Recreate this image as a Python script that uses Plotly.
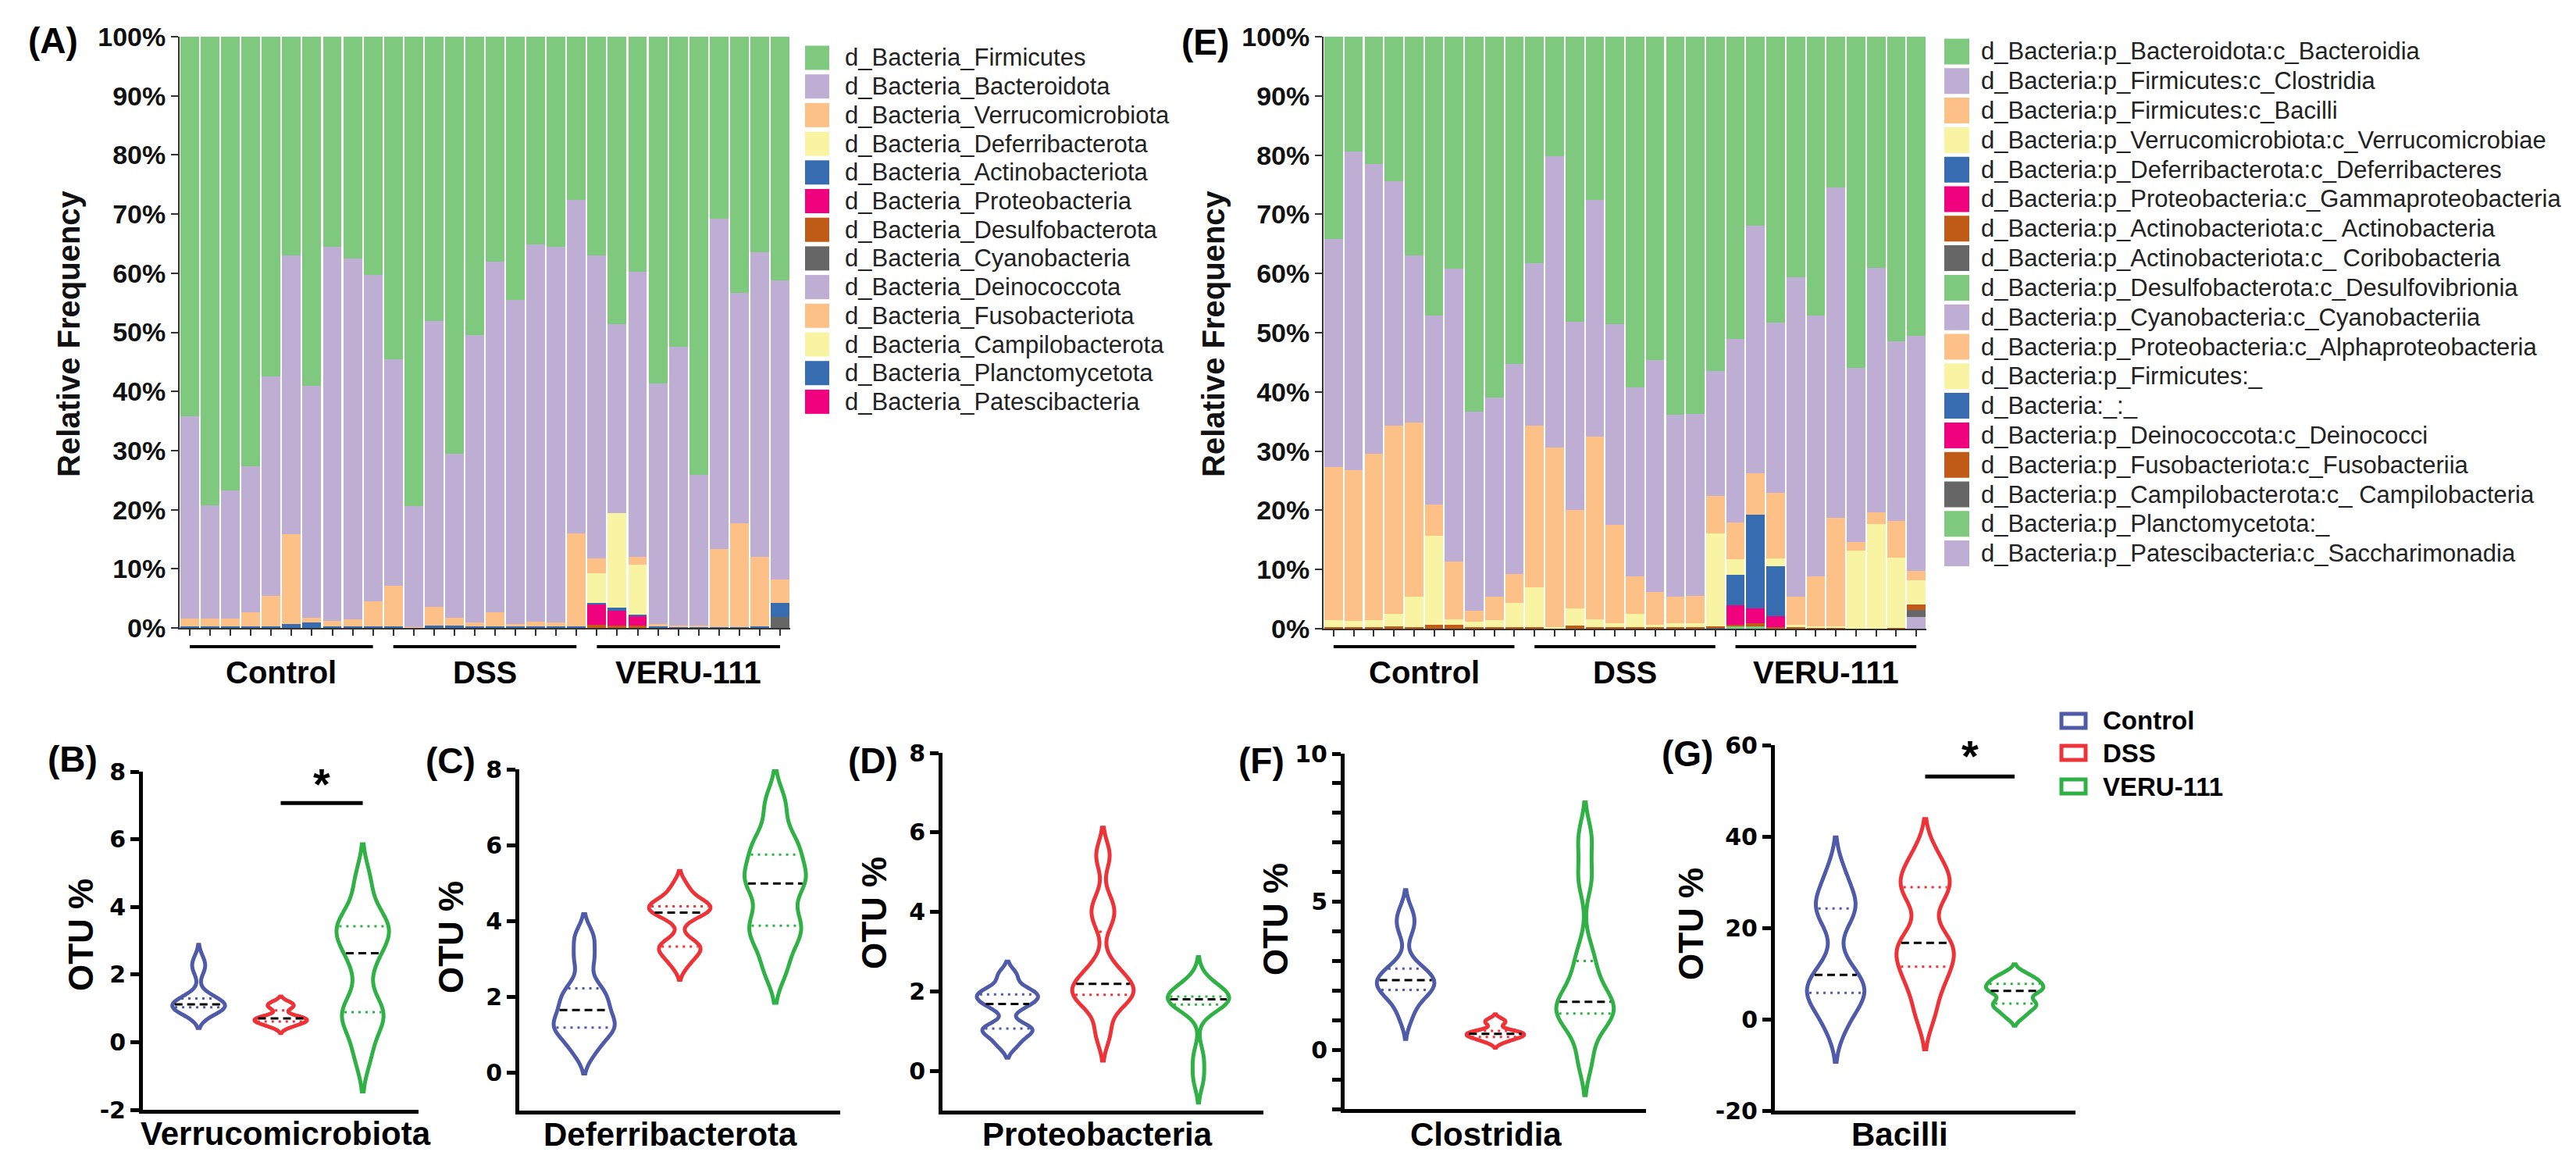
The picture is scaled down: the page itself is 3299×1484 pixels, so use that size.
import math
import numpy as np
import plotly.graph_objects as go

W, H = 3299, 1484
FONT = 'Arial, "Liberation Sans", Helvetica, sans-serif'
TICKFONT = '"DejaVu Sans", Verdana, sans-serif'

# ---------------- DATA ----------------
groups = ["Control", "DSS", "VERU-111"]
group_size = 10
samples = list(range(30))

# Panel A : phylum level relative frequency (%)
phyla = ["d_Bacteria_Firmicutes", "d_Bacteria_Bacteroidota", "d_Bacteria_Verrucomicrobiota",
         "d_Bacteria_Deferribacterota", "d_Bacteria_Actinobacteriota", "d_Bacteria_Proteobacteria",
         "d_Bacteria_Desulfobacterota", "d_Bacteria_Cyanobacteria", "d_Bacteria_Deinococcota",
         "d_Bacteria_Fusobacteriota", "d_Bacteria_Campilobacterota", "d_Bacteria_Planctomycetota",
         "d_Bacteria_Patescibacteria"]
firmicutes = [64.2, 79.2, 76.7, 72.7, 57.5, 37.0, 59.1, 35.5, 37.5, 40.3,
              54.6, 79.4, 48.1, 70.6, 50.4, 38.0, 44.5, 35.1, 35.5, 27.6,
              37.0, 48.6, 39.8, 58.7, 52.4, 74.1, 30.8, 43.3, 36.5, 41.2]
bacteroidota = [34.2, 19.2, 21.7, 24.6, 37.1, 47.2, 39.2, 63.3, 61.0, 55.2,
                38.2, 20.5, 48.3, 27.7, 48.7, 59.3, 54.8, 63.9, 63.6, 56.4,
                51.2, 32.0, 48.2, 40.6, 47.2, 25.5, 55.9, 39.0, 51.5, 50.6]
verrucomicrobiota = [1.3, 1.3, 1.3, 2.4, 5.1, 15.2, 0.8, 0.9, 1.2, 4.2,
                     7.0, 0.1, 3.2, 1.3, 0.7, 2.5, 0.5, 0.8, 0.7, 15.7,
                     2.6, 0.0, 1.3, 0.5, 0.2, 0.2, 13.2, 17.6, 11.7, 4.0]
deferribacterota = [0] * 20 + [5.0, 16.0, 8.4, 0, 0, 0, 0, 0, 0, 0]
actinobacteriota = [0.3, 0.3, 0.3, 0.3, 0.3, 0.6, 0.9, 0.3, 0.3, 0.3,
                    0.2, 0.0, 0.4, 0.4, 0.2, 0.2, 0.2, 0.2, 0.2, 0.3,
                    0.2, 0.5, 0.3, 0.2, 0.2, 0.2, 0.1, 0.1, 0.3, 2.3]
proteobacteria = [0] * 20 + [3.5, 2.5, 1.6, 0, 0, 0, 0, 0, 0, 0]
desulfobacterota = [0] * 20 + [0.5, 0.4, 0.4, 0, 0, 0, 0, 0, 0, 0]
cyanobacteria = [0] * 29 + [1.9]
deinococcota = [0] * 30
fusobacteriota = [0] * 30
campilobacterota = [0] * 30
planctomycetota = [0] * 30
patescibacteria = [0] * 30
phyla_values = [firmicutes, bacteroidota, verrucomicrobiota, deferribacterota, actinobacteriota,
                proteobacteria, desulfobacterota, cyanobacteria, deinococcota, fusobacteriota,
                campilobacterota, planctomycetota, patescibacteria]

# Panel E : class level relative frequency (%)
classes = ["d_Bacteria:p_Bacteroidota:c_Bacteroidia", "d_Bacteria:p_Firmicutes:c_Clostridia",
           "d_Bacteria:p_Firmicutes:c_Bacilli", "d_Bacteria:p_Verrucomicrobiota:c_Verrucomicrobiae",
           "d_Bacteria:p_Deferribacterota:c_Deferribacteres", "d_Bacteria:p_Proteobacteria:c_Gammaproteobacteria",
           "d_Bacteria:p_Actinobacteriota:c_ Actinobacteria", "d_Bacteria:p_Actinobacteriota:c_ Coribobacteria",
           "d_Bacteria:p_Desulfobacterota:c_Desulfovibrionia", "d_Bacteria:p_Cyanobacteria:c_Cyanobacteriia",
           "d_Bacteria:p_Proteobacteria:c_Alphaproteobacteria", "d_Bacteria:p_Firmicutes:_",
           "d_Bacteria:_:_", "d_Bacteria:p_Deinococcota:c_Deinococci",
           "d_Bacteria:p_Fusobacteriota:c_Fusobacteriia", "d_Bacteria:p_Campilobacterota:c_ Campilobacteria",
           "d_Bacteria:p_Planctomycetota:_", "d_Bacteria:p_Patescibacteria:c_Saccharimonadia"]
bacteroidia = [34.2, 19.4, 21.5, 24.4, 36.9, 47.1, 39.2, 63.3, 61.0, 55.3,
               38.2, 20.2, 48.1, 27.6, 48.6, 59.2, 54.6, 63.9, 63.7, 56.4,
               51.0, 31.9, 48.3, 40.6, 47.1, 25.5, 55.9, 39.0, 51.4, 50.5]
clostridia = [38.5, 53.8, 49.0, 41.3, 28.3, 31.9, 49.4, 33.7, 33.6, 35.5,
              27.5, 49.2, 31.9, 39.9, 33.8, 31.9, 39.2, 30.7, 30.7, 21.2,
              31.0, 41.8, 28.7, 54.0, 44.0, 55.8, 29.4, 41.3, 30.4, 39.7]
bacilli = [25.9, 25.5, 28.1, 31.8, 29.4, 5.3, 9.8, 1.8, 4.0, 4.9,
           27.3, 30.4, 16.6, 30.9, 16.7, 6.4, 5.6, 4.5, 4.7, 6.3,
           6.2, 7.0, 11.1, 4.8, 8.5, 18.3, 1.5, 2.0, 6.2, 1.6]
verrucomicrobiae = [1.1, 1.0, 1.1, 2.1, 5.2, 15.0, 0.9, 0.9, 1.1, 4.0,
                    6.8, 0.1, 2.9, 1.3, 0.7, 2.3, 0.4, 0.7, 0.7, 15.7,
                    2.7, 0.0, 1.3, 0.4, 0.3, 0.3, 13.2, 17.7, 11.9, 4.1]
deferribacteres = [0] * 20 + [5.2, 15.9, 8.5, 0, 0, 0, 0, 0, 0, 0]
gammaproteobacteria = [0] * 20 + [3.2, 2.5, 1.8, 0, 0, 0, 0, 0, 0, 0]
actinobacteria = [0.3, 0.3, 0.3, 0.4, 0.2, 0.7, 0.7, 0.3, 0.3, 0.3,
                  0.2, 0.1, 0.5, 0.3, 0.2, 0.2, 0.2, 0.2, 0.2, 0.2,
                  0.3, 0.5, 0.3, 0.2, 0.1, 0.1, 0.0, 0.0, 0.1, 0.9]
coriobacteria = [0] * 19 + [0.2] + [0] * 9 + [1.2]
desulfovibrionia = [0] * 20 + [0.4, 0.4] + [0] * 8
cyanobacteriia = [0] * 30
alphaproteobacteria = [0] * 30
firmicutes_unassigned = [0] * 30
bacteria_unassigned = [0] * 30
deinococci = [0] * 30
fusobacteriia = [0] * 30
campilobacteria = [0] * 30
planctomycetota_unassigned = [0] * 30
saccharimonadia = [0] * 29 + [2.0]
class_values = [bacteroidia, clostridia, bacilli, verrucomicrobiae, deferribacteres, gammaproteobacteria,
                actinobacteria, coriobacteria, desulfovibrionia, cyanobacteriia, alphaproteobacteria,
                firmicutes_unassigned, bacteria_unassigned, deinococci, fusobacteriia, campilobacteria,
                planctomycetota_unassigned, saccharimonadia]

# Violin panels : OTU % per sample
verruco_control = [0.9, 0.97, 1.02, 1.06, 1.1, 1.13, 1.2, 1.32, 2.15, 2.4]
verruco_dss = [0.47, 0.55, 0.6, 0.65, 0.68, 0.72, 0.75, 1.0, 1.1, 1.15]
verruco_veru = [-0.36, 0.6, 0.85, 1.0, 2.3, 2.96, 3.2, 3.5, 3.65, 4.75]

deferri_control = [0.58, 1.0, 1.15, 1.3, 1.5, 1.8, 2.0, 2.3, 3.0, 3.58]
deferri_dss = [2.89, 3.2, 3.3, 3.4, 4.15, 4.29, 4.35, 4.4, 4.5, 4.88]
deferri_veru = [2.74, 3.5, 3.8, 4.1, 4.9, 5.08, 5.3, 5.9, 6.1, 7.08]

proteo_control = [0.67, 0.95, 1.05, 1.1, 1.6, 1.76, 1.85, 1.95, 2.05, 2.41]
proteo_dss = [0.96, 1.7, 1.9, 1.95, 2.1, 2.28, 2.6, 3.8, 4.2, 5.42]
proteo_veru = [-0.2, 0.35, 1.65, 1.72, 1.78, 1.82, 1.84, 1.88, 2.0, 2.26]

clostridia_control = [1.17, 1.8, 2.0, 2.1, 2.3, 2.4, 2.55, 2.8, 4.1, 4.59]
clostridia_dss = [0.27, 0.38, 0.42, 0.48, 0.52, 0.56, 0.6, 0.65, 0.9, 1.0]
clostridia_veru = [-0.33, 0.8, 1.2, 1.3, 1.5, 1.74, 2.4, 3.2, 5.8, 7.15]

bacilli_control = [-1.3, 3.5, 5.5, 6.5, 8.0, 11.4, 22.0, 25.0, 26.0, 31.8]
bacilli_dss = [1.4, 8.0, 10.5, 14.5, 16.0, 17.4, 27.0, 29.5, 31.0, 35.8]
bacilli_veru = [0.8, 2.5, 3.2, 4.0, 6.0, 6.4, 7.0, 8.0, 8.6, 9.8]

# significance brackets (group index from, to, height)
sig_verruco = (1, 2, 7.07)
sig_bacilli = (1, 2, 53.1)

# ---------------- STYLE ----------------
GREEN, PURPLE, ORANGE, YELLOW = "#7fc97f", "#beaed4", "#fdc086", "#f8f4a4"
BLUE, PINK, BROWN, GREY = "#386cb0", "#f0027f", "#bf5b17", "#666666"
phyla_colors = [GREEN, PURPLE, ORANGE, YELLOW, BLUE, PINK, BROWN, GREY,
                PURPLE, ORANGE, YELLOW, BLUE, PINK]
class_colors = [GREEN, PURPLE, ORANGE, YELLOW, BLUE, PINK, BROWN, GREY,
                GREEN, PURPLE, ORANGE, YELLOW, BLUE, PINK, BROWN, GREY, GREEN, PURPLE]
GROUP_COLORS = ["#4f5aa8", "#ee3338", "#2fb145"]
LW = 5


def xdom(a, b):
    return [a / W, b / W]


def ydom(top, bottom):
    return [1 - bottom / H, 1 - top / H]


def pxx(x):
    return x / W


def pxy(y):
    return 1 - y / H


def text_ann(text, x, y, size, bold=True, angle=0, xanchor="center", color="black", family=FONT):
    return dict(text=text, xref="paper", yref="paper", x=pxx(x), y=pxy(y), showarrow=False,
                xanchor=xanchor, yanchor="middle", textangle=angle,
                font=dict(family=family, size=size, color=color, weight="bold" if bold else "normal"))


fig = go.Figure()
shapes = []
annotations = []
layout = {}

# ---------------- STACKED BAR PANELS ----------------
bar_panels = [
    dict(ax="", names=phyla, values=phyla_values, colors=phyla_colors, x=(222, 1004), y=(39, 796),
         label="(A)", label_xy=(60, 44), ytitle_xy=(80, 419),
         leg_sw=(1023, 1054), leg_text_x=1072, leg_y0=66, leg_step=36.7, leg_h=31),
    dict(ax="2", names=classes, values=class_values, colors=class_colors, x=(1687, 2459), y=(39, 797),
         label="(E)", label_xy=(1535, 46), ytitle_xy=(1546, 419),
         leg_sw=(2482, 2514), leg_text_x=2527, leg_y0=58, leg_step=37.8, leg_h=33),
]

for p in bar_panels:
    ax = p["ax"]
    n = len(p["names"])
    for i in reversed(range(n)):
        fig.add_trace(go.Bar(x=samples, y=p["values"][i], name=p["names"][i],
                             marker=dict(color=p["colors"][i], line=dict(width=0)),
                             xaxis="x" + ax, yaxis="y" + ax, showlegend=False))
    layout["xaxis" + ax] = dict(domain=xdom(*p["x"]), range=[-0.5, 29.5], anchor="y" + ax,
                                tickmode="array", tickvals=samples, showticklabels=False,
                                ticks="outside", ticklen=8, tickwidth=2, tickcolor="#333",
                                showline=True, linewidth=2, linecolor="#333",
                                showgrid=False, zeroline=False, automargin=False, fixedrange=True)
    layout["yaxis" + ax] = dict(domain=ydom(*p["y"]), range=[0, 100], anchor="x" + ax,
                                tickmode="array", tickvals=list(range(0, 101, 10)),
                                ticktext=[f"{v}%" for v in range(0, 101, 10)],
                                ticks="outside", ticklen=9, tickwidth=2, tickcolor="#333",
                                showline=True, linewidth=2, linecolor="#333",
                                tickfont=dict(family=FONT, size=34, color="#111", weight="bold"),
                                showgrid=False, zeroline=False, automargin=False, fixedrange=True)
    annotations.append(text_ann("Relative Frequency", *p["ytitle_xy"], 40, angle=-90, color="#111"))
    # group underlines and labels
    for gi, g in enumerate(groups):
        i0, i1 = gi * group_size, gi * group_size + group_size - 1
        shapes.append(dict(type="line", xref="x" + ax, yref="paper", x0=i0, x1=i1,
                           y0=pxy(820), y1=pxy(820), line=dict(color="black", width=4)))
        annotations.append(dict(text=g, xref="x" + ax, yref="paper", x=(i0 + i1) / 2, y=pxy(853),
                                showarrow=False, xanchor="center", yanchor="middle",
                                font=dict(family=FONT, size=40, color="black", weight="bold")))
    # manual legend
    for i, name in enumerate(p["names"]):
        cy = p["leg_y0"] + i * p["leg_step"]
        shapes.append(dict(type="rect", xref="paper", yref="paper",
                           x0=pxx(p["leg_sw"][0]), x1=pxx(p["leg_sw"][1]),
                           y0=pxy(cy + p["leg_h"] / 2), y1=pxy(cy - p["leg_h"] / 2),
                           fillcolor=p["colors"][i], line=dict(width=0)))
        annotations.append(text_ann(name, p["leg_text_x"], cy, 31, bold=False, xanchor="left", color="#222"))
    annotations.append(text_ann(p["label"], *p["label_xy"], 46))

# ---------------- VIOLIN PANELS ----------------
VIOLIN_WIDTH = 0.64
XR = [-0.68, 2.68]
violin_panels = [
    dict(ax="3", title="Verrucomicrobiota", data=[verruco_control, verruco_dss, verruco_veru],
         bw=[0.24, 0.1, 0.55], x=(175, 528), y=(980, 1413), yrange=[-2, 8],
         tickvals=[-2, 0, 2, 4, 6, 8], ticktext=["-2", "0", "2", "4", "6", "8"],
         label="(B)", label_xy=(85, 964), ytitle_xy=(95, 1189), xtitle_xy=(358, 1443), sig=sig_verruco),
    dict(ax="4", title="Deferribacterota", data=[deferri_control, deferri_dss, deferri_veru],
         bw=[0.3, 0.22, 0.45], x=(657, 1068), y=(977, 1414), yrange=[-1, 8],
         tickvals=[0, 2, 4, 6, 8], ticktext=["0", "2", "4", "6", "8"],
         label="(C)", label_xy=(569, 966), ytitle_xy=(569, 1192), xtitle_xy=(850, 1444), sig=None),
    dict(ax="5", title="Proteobacteria", data=[proteo_control, proteo_dss, proteo_veru],
         bw=[0.17, 0.35, 0.3], x=(1199, 1610), y=(956, 1414), yrange=[-1, 8],
         tickvals=[0, 2, 4, 6, 8], ticktext=["0", "2", "4", "6", "8"],
         label="(D)", label_xy=(1110, 966), ytitle_xy=(1111, 1161), xtitle_xy=(1397, 1444), sig=None),
    dict(ax="6", title="Clostridia", data=[clostridia_control, clostridia_dss, clostridia_veru],
         bw=[0.4, 0.1, 0.6], x=(1714, 2100), y=(957, 1412), yrange=[-2, 10],
         tickvals=list(range(-2, 11)), ticktext=["" if v % 5 else str(v) for v in range(-2, 11)],
         label="(F)", label_xy=(1607, 966), ytitle_xy=(1625, 1169), xtitle_xy=(1895, 1444), sig=None),
    dict(ax="7", title="Bacilli", data=[bacilli_control, bacilli_dss, bacilli_veru],
         bw=[4.0, 4.0, 1.1], x=(2265, 2650), y=(946, 1414), yrange=[-20, 60],
         tickvals=[-20, 0, 20, 40, 60], ticktext=["-20", "0", "20", "40", "60"],
         label="(G)", label_xy=(2153, 957), ytitle_xy=(2157, 1175), xtitle_xy=(2425, 1444), sig=sig_bacilli),
]


def halfwidth(vals, bw, width, ts):
    """Replicates plotly's violin KDE scaling (gaussian kernel, soft span, scalemode='width')."""
    v = np.asarray(vals, dtype=float)
    n = len(v)

    def kde(t):
        t = np.atleast_1d(np.asarray(t, dtype=float))
        return np.exp(-0.5 * ((t[:, None] - v[None, :]) / bw) ** 2).sum(1) / (n * bw * math.sqrt(2 * math.pi))

    s0, s1 = v.min() - 2 * bw, v.max() + 2 * bw
    nstep = math.ceil((s1 - s0) / (bw / 3))
    grid = s0 + (s1 - s0) / nstep * np.arange(nstep + 1)
    return (width / 2) * kde(ts) / kde(grid).max()


for p in violin_panels:
    ax = p["ax"]
    unit_px = (p["x"][1] - p["x"][0]) / (XR[1] - XR[0])
    inset = 2.8 / unit_px
    for gi, (vals, bw) in enumerate(zip(p["data"], p["bw"])):
        col = GROUP_COLORS[gi]
        fig.add_trace(go.Violin(y=vals, x0=gi, name=groups[gi], xaxis="x" + ax, yaxis="y" + ax,
                                line=dict(color=col, width=LW), fillcolor="rgba(255,255,255,0)",
                                bandwidth=bw, spanmode="soft", width=VIOLIN_WIDTH, scalemode="width",
                                scalegroup=f"{ax}-{gi}", points=False, box=dict(visible=False),
                                meanline=dict(visible=False), showlegend=False, hoveron="violins"))
        q1, med, q3 = np.percentile(vals, [25, 50, 75])
        for q, dash, qc in [(q1, "3px,6px", col), (q3, "3px,6px", col), (med, "10px,6px", "black")]:
            hw = float(halfwidth(vals, bw, VIOLIN_WIDTH, [q])[0]) - inset
            if hw <= 0:
                continue
            fig.add_trace(go.Scatter(x=[gi - hw, gi + hw], y=[q, q], mode="lines",
                                     line=dict(color=qc, width=3, dash=dash),
                                     xaxis="x" + ax, yaxis="y" + ax, showlegend=False, hoverinfo="skip"))
    layout["xaxis" + ax] = dict(domain=xdom(*p["x"]), range=XR, anchor="y" + ax,
                                showticklabels=False, ticks="", showline=True, linewidth=LW, linecolor="black",
                                showgrid=False, zeroline=False, automargin=False, fixedrange=True)
    layout["yaxis" + ax] = dict(domain=ydom(*p["y"]), range=p["yrange"], anchor="x" + ax,
                                tickmode="array", tickvals=p["tickvals"], ticktext=p["ticktext"],
                                ticks="outside", ticklen=11, tickwidth=LW, tickcolor="black",
                                showline=True, linewidth=LW, linecolor="black",
                                tickfont=dict(family=TICKFONT, size=30, color="black", weight="bold"),
                                showgrid=False, zeroline=False, automargin=False, fixedrange=True)
    annotations.append(text_ann("OTU %", *p["ytitle_xy"], 44, angle=-90))
    annotations.append(text_ann(p["title"], *p["xtitle_xy"], 42))
    annotations.append(text_ann(p["label"], *p["label_xy"], 46))
    if p["sig"]:
        a, b, yv = p["sig"]
        shapes.append(dict(type="line", xref="x" + ax, yref="y" + ax, x0=a, x1=b, y0=yv, y1=yv,
                           line=dict(color="black", width=5)))
        yr = p["yrange"][1] - p["yrange"][0]
        annotations.append(dict(text="*", xref="x" + ax, yref="y" + ax, x=(a + b) / 2, y=yv + 0.058 * yr,
                                showarrow=False, xanchor="center", yanchor="middle",
                                font=dict(family=FONT, size=56, color="black", weight="bold")))

# violin group legend
leg_rows = [915, 956, 999]
for gi, g in enumerate(groups):
    cy = leg_rows[gi]
    shapes.append(dict(type="rect", xref="paper", yref="paper", x0=pxx(2632), x1=pxx(2663),
                       y0=pxy(cy + 9), y1=pxy(cy - 9), fillcolor="white",
                       line=dict(color=GROUP_COLORS[gi], width=LW)))
    annotations.append(text_ann(g, 2683, cy, 33, xanchor="left"))

fig.update_layout(
    width=W, height=H, margin=dict(l=0, r=0, t=0, b=0),
    paper_bgcolor="white", plot_bgcolor="white",
    barmode="stack", bargap=0.08, violinmode="overlay",
    showlegend=False, shapes=shapes, annotations=annotations,
    font=dict(family=FONT, color="black"),
    **layout,
)

fig.write_html("out.html")
